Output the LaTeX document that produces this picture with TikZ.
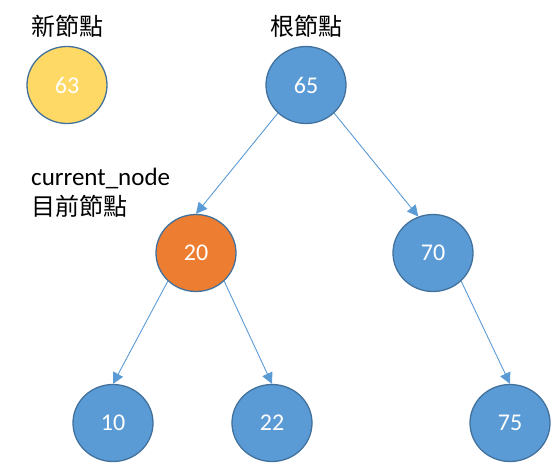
\documentclass[tikz,border=0pt]{standalone}
\usepackage{fontspec}
\setmainfont{Carlito}
\newfontfamily\cjk{Noto Sans CJK TC}
\usepackage{xcolor}
\usetikzlibrary{arrows.meta,shapes.geometric,positioning,calc}
\definecolor{nodeblue}{HTML}{5B9BD5}
\definecolor{nodeedge}{HTML}{41719C}
\definecolor{nodeorange}{HTML}{ED7D31}
\definecolor{nodeyellow}{HTML}{FFD966}

\begin{document}
\begin{tikzpicture}[x=1pt,y=-1pt,vertex/.style={ellipse,draw=nodeedge,line width=1.3pt,minimum width=80pt,minimum height=77pt,inner sep=0pt,text=white,font=\fontsize{24}{26}\selectfont},link/.style={draw=nodeblue,line width=0.9pt,-{Triangle[length=11pt,width=11pt]}},caption/.style={inner sep=0pt,font=\fontsize{24}{26}\selectfont}]
\useasboundingbox (0,0) rectangle (551,463);
\node (v63) at (67,85)[vertex,fill=nodeyellow] {63};
\node (v65) at (306,85)[vertex,fill=nodeblue] {65};
\node (v20) at (196,253)[vertex,fill=nodeorange] {20};
\node (v70) at (433,253)[vertex,fill=nodeblue] {70};
\node (v10) at (113,423)[vertex,fill=nodeblue] {10};
\node (v22) at (272,423)[vertex,fill=nodeblue] {22};
\node (v75) at (510,423)[vertex,fill=nodeblue] {75};
\node (newlbl) at (67,26)[caption] {\cjk 新節點};
\node (rootlbl) at (306,26)[caption] {\cjk 根節點};
\node (curlbl) at (31,178)[caption,anchor=west,font=\fontsize{25}{27}\selectfont] {current\_node};
\node (curzh) at (31,206)[caption,anchor=west] {\cjk 目前節點};
\draw[link] (v65.225) -- (v20.north);
\draw[link] (v65.315) -- (v70.112);
\draw[link] (v20.225) -- (v10.north);
\draw[link] (v20.315) -- (v22.north);
\draw[link] (v70.315) -- (v75.north);
\end{tikzpicture}
\end{document}
